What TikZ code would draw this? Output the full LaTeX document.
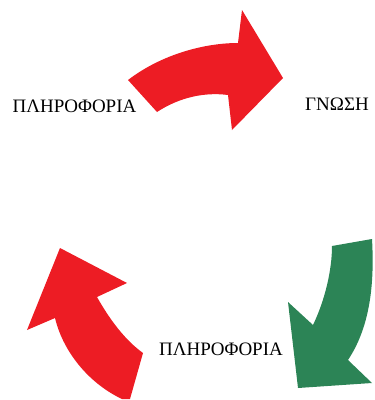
\documentclass[tikz,border=0pt]{standalone}
\usepackage{fontspec}
\setmainfont{Liberation Serif}
\usepackage{tikz}
\definecolor{arrred}{RGB}{237,28,36}
\definecolor{arrgreen}{RGB}{44,132,86}

\begin{document}
\begin{tikzpicture}[x=1pt, y=-1pt, word/.style={font=\fontsize{19}{21}\selectfont, inner sep=0pt}]
                \useasboundingbox (0,0) rectangle (375,400);
                \node[word] (info) at (74.5,106) {ΠΛΗΡΟΦΟΡΙΑ};
                \node[word] (gnosi) at (337,104) {ΓΝΩΣΗ};
                \node[word] (info2) at (221,349) {ΠΛΗΡΟΦΟΡΙΑ};
                % upper arrow
                \fill[arrred] (128,80) .. controls (162,54) and (205,43) .. (238,43)
                    -- (242,10) -- (283,78) -- (232,130) -- (228,95)
                    .. controls (205,92) and (180,97) .. (157,112) -- cycle;
                % left arrow
                \fill[arrred] (60,248) -- (127,283) -- (97,297)
                    .. controls (110,320) and (125,340) .. (143,353)
                    -- (130,399) -- (122,399)
                    .. controls (92,385) and (64,355) .. (55,318)
                    -- (27,330) -- cycle;
                % right arrow
                \fill[arrgreen] (332,246) -- (372,239)
                    .. controls (375,290) and (368,330) .. (348,360)
                    -- (372,383) -- (298,388) -- (288,302) -- (313,325)
                    .. controls (325,300) and (332,270) .. (332,246) -- cycle;
            \end{tikzpicture}
\end{document}
